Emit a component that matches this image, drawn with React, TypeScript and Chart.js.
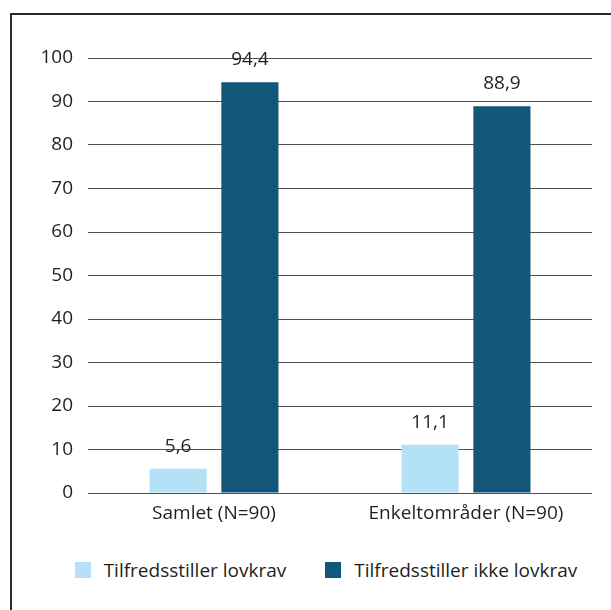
import React, { useEffect, useRef } from 'react';
import { Chart, registerables } from 'chart.js';

Chart.register(...registerables);

// Categories and series values (percent)
const categories = ['Samlet (N=90)', 'Enkeltområder (N=90)'];
const seriesNames = ['Tilfredsstiller lovkrav', 'Tilfredsstiller ikke lovkrav'];
const meetsRequirement = [5.6, 11.1];
const failsRequirement = [94.4, 88.9];
const seriesColors = ['#b3e2f7', '#12567a'];
const yMin = 0;
const yMax = 100;
const yStep = 10;

const FONT = '"Open Sans", "Noto Sans", sans-serif';
const FONT_SIZE = 19;
const TEXT = '#231f20';
const GRID = '#505052';

const formatValue = (v: number) => v.toFixed(1).replace('.', ',');

// Prints each bar's value above it, with a decimal comma
const valueLabels = {
  id: 'valueLabels',
  afterDatasetsDraw(chart: any) {
    const ctx = chart.ctx;
    ctx.save();
    ctx.font = `${FONT_SIZE}px ${FONT}`;
    ctx.fillStyle = TEXT;
    ctx.textAlign = 'center';
    ctx.textBaseline = 'alphabetic';
    chart.data.datasets.forEach((ds: any, i: number) => {
      chart.getDatasetMeta(i).data.forEach((bar: any, j: number) => {
        ctx.fillText(formatValue(ds.data[j]), bar.x, bar.y - 17);
      });
    });
    ctx.restore();
  },
};

export default function App() {
  const canvasRef = useRef<HTMLCanvasElement | null>(null);

  useEffect(() => {
    if (!canvasRef.current) return;
    Chart.defaults.font.family = FONT;
    Chart.defaults.font.size = FONT_SIZE;
    Chart.defaults.color = TEXT;

    const chart = new Chart(canvasRef.current, {
      type: 'bar',
      data: {
        labels: categories,
        datasets: [
          {
            label: seriesNames[0],
            data: meetsRequirement,
            backgroundColor: seriesColors[0],
            categoryPercentage: 0.57,
            barPercentage: 0.795,
          },
          {
            label: seriesNames[1],
            data: failsRequirement,
            backgroundColor: seriesColors[1],
            categoryPercentage: 0.57,
            barPercentage: 0.795,
          },
        ],
      },
      options: {
        animation: false,
        responsive: true,
        maintainAspectRatio: false,
        layout: { padding: { top: 38, right: 20, left: 0, bottom: 0 } },
        plugins: {
          legend: { display: false },
          tooltip: { enabled: false },
        },
        scales: {
          x: {
            grid: { display: false, drawTicks: false },
            border: { display: false },
            ticks: { padding: 9, color: TEXT, font: { size: FONT_SIZE } },
            afterFit: (scale: any) => {
              scale.height = 48;
            },
          },
          y: {
            min: yMin,
            max: yMax,
            ticks: { stepSize: yStep, padding: 15, color: TEXT, font: { size: FONT_SIZE } },
            grid: { color: GRID, lineWidth: 1, drawTicks: false },
            border: { display: false },
            afterFit: (scale: any) => {
              scale.width = 48;
            },
          },
        },
      },
      plugins: [valueLabels],
    });
    return () => chart.destroy();
  }, []);

  return (
    <div
      style={{
        position: 'fixed',
        left: 0,
        top: 0,
        width: '100vw',
        height: '100vh',
        overflow: 'hidden',
        background: '#ffffff',
        fontFamily: FONT,
      }}
    >
      <div
        style={{
          position: 'absolute',
          left: 10,
          top: 13,
          width: 700,
          height: 700,
          border: '2px solid #2a2a2a',
        }}
      />
      <div style={{ position: 'absolute', left: 40, top: 20, width: 572, height: 521 }}>
        <canvas ref={canvasRef} />
      </div>
      <div
        style={{
          position: 'absolute',
          left: 0,
          top: 560,
          width: 652,
          height: 20,
          display: 'flex',
          justifyContent: 'center',
          alignItems: 'center',
          color: TEXT,
          fontSize: FONT_SIZE,
          lineHeight: '20px',
        }}
      >
        {seriesNames.map((name, i) => (
          <div
            key={name}
            style={{ display: 'flex', alignItems: 'center', marginLeft: i === 0 ? 0 : 39 }}
          >
            <span
              style={{
                display: 'inline-block',
                width: 16,
                height: 16,
                background: seriesColors[i],
                marginRight: 13,
              }}
            />
            <span>{name}</span>
          </div>
        ))}
      </div>
    </div>
  );
}
